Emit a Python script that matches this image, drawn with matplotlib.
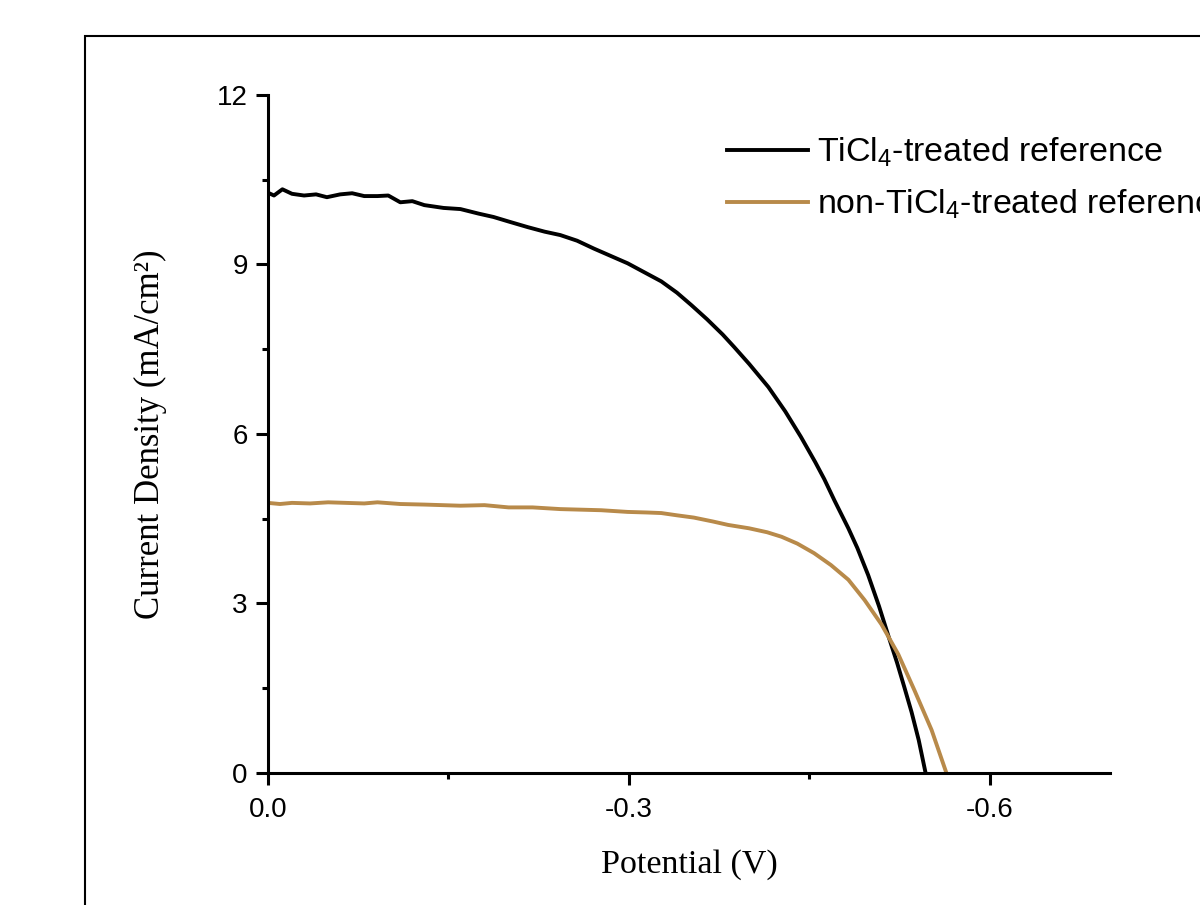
import numpy as np
import matplotlib.pyplot as plt
from matplotlib.ticker import MultipleLocator
from matplotlib.patches import Rectangle

plt.rcParams['mathtext.default'] = 'regular'

# potential (V) and current density (mA/cm2)
v_treated = [0.000, -0.005, -0.012, -0.020, -0.030, -0.040, -0.049, -0.060,
             -0.070, -0.080, -0.091, -0.100, -0.110, -0.120, -0.130, -0.146,
             -0.160, -0.175, -0.1875, -0.200, -0.216, -0.230, -0.243, -0.257,
             -0.271, -0.285, -0.299, -0.313, -0.327, -0.340, -0.352, -0.365,
             -0.378, -0.3875, -0.400, -0.416, -0.430, -0.443, -0.455, -0.4625,
             -0.471, -0.4825, -0.490, -0.499, -0.508, -0.516, -0.523, -0.529,
             -0.535, -0.541, -0.5467]
j_treated = [10.27, 10.22, 10.33, 10.25, 10.22, 10.24, 10.19, 10.24,
             10.26, 10.21, 10.21, 10.22, 10.10, 10.12, 10.05, 10.00,
             9.98, 9.90, 9.84, 9.76, 9.66, 9.58, 9.52, 9.42,
             9.28, 9.15, 9.02, 8.86, 8.70, 8.50, 8.28, 8.03,
             7.76, 7.54, 7.24, 6.83, 6.40, 5.95, 5.50, 5.20,
             4.82, 4.33, 3.98, 3.50, 2.95, 2.41, 1.95, 1.52,
             1.08, 0.58, 0.0]

v_untreated = [0.000, -0.010, -0.020, -0.035, -0.050, -0.065, -0.080, -0.091,
               -0.110, -0.130, -0.160, -0.180, -0.200, -0.220, -0.243, -0.260,
               -0.277, -0.299, -0.315, -0.327, -0.340, -0.354, -0.370, -0.3825,
               -0.400, -0.415, -0.427, -0.440, -0.454, -0.468, -0.4825, -0.496,
               -0.510, -0.524, -0.5375, -0.5517, -0.564]
j_untreated = [4.78, 4.76, 4.78, 4.77, 4.79, 4.78, 4.77, 4.79,
               4.76, 4.75, 4.73, 4.74, 4.70, 4.70, 4.67, 4.66,
               4.65, 4.62, 4.61, 4.60, 4.56, 4.52, 4.45, 4.39,
               4.33, 4.26, 4.18, 4.06, 3.89, 3.68, 3.42, 3.06,
               2.63, 2.10, 1.46, 0.76, 0.0]

labels = ['TiCl$_4$-treated reference', 'non-TiCl$_4$-treated reference']
colors = ['black', '#B88A4A']

fig = plt.figure(figsize=(12, 9.05), dpi=100)
ax = fig.add_axes([0.2233, 0.1459, 0.7017, 0.7492])

# outer frame that runs off the picture
fig.patches.append(Rectangle((0.0708, -0.2), 1.2, 0.2 + 0.960,
                             transform=fig.transFigure, fill=False,
                             edgecolor='black', linewidth=1.5))

ax.plot(v_treated, j_treated, color=colors[0], lw=2.8, label=labels[0])
ax.plot(v_untreated, j_untreated, color=colors[1], lw=2.8, label=labels[1])

ax.set_xlim(0, -0.7)
ax.set_ylim(0, 12)
ax.xaxis.set_minor_locator(MultipleLocator(0.15))
ax.yaxis.set_major_locator(MultipleLocator(3))
ax.yaxis.set_minor_locator(MultipleLocator(1.5))
ax.set_xticks([0, -0.3, -0.6])
ax.set_xticklabels(['0.0', '-0.3', '-0.6'])

for s in ['top', 'right']:
    ax.spines[s].set_visible(False)
for s in ['left', 'bottom']:
    ax.spines[s].set_linewidth(2.2)

ax.tick_params(which='major', direction='out', length=8.5, width=2.2,
               labelsize=20, pad=6)
ax.tick_params(axis='x', which='major', pad=9)
ax.tick_params(which='minor', direction='out', length=4.3, width=2.2)
for t in ax.get_xticklabels() + ax.get_yticklabels():
    t.set_family('Liberation Sans')

ax.set_xlabel('Potential (V)', family='Liberation Serif', fontsize=24.5,
              labelpad=19)
ax.set_ylabel('Current Density (mA/cm²)', family='Liberation Serif',
              fontsize=25, labelpad=36)

ax.legend(loc='upper left', bbox_to_anchor=(0.5295, 0.96), frameon=False,
          prop={'family': 'Liberation Sans', 'size': 24.5},
          handlelength=2.38, handletextpad=0.25, labelspacing=0.55,
          borderaxespad=0)

fig.savefig('out.png', dpi=100)
